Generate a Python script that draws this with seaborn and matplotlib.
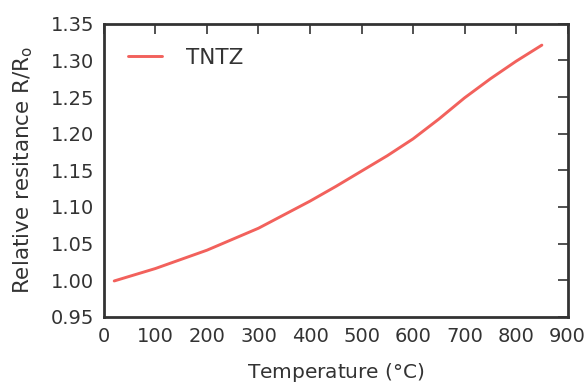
import matplotlib
matplotlib.use('Agg')
import matplotlib.pyplot as plt
import seaborn as sns
import pandas as pd

# values
temperature = [20, 100, 200, 300, 400, 450, 500, 550, 600, 650, 700, 750, 800, 850]
resistance = [0.999, 1.016, 1.041, 1.071, 1.108, 1.128, 1.149, 1.170, 1.193, 1.220,
              1.249, 1.275, 1.299, 1.321]
series_name = 'TNTZ'
x_ticks = [0, 100, 200, 300, 400, 500, 600, 700, 800, 900]
y_ticks = [0.95, 1.00, 1.05, 1.10, 1.15, 1.20, 1.25, 1.30, 1.35]

TEXT = '#333333'
LINE = '#f2615c'


def main():
    sns.set_style('white')
    plt.rcParams['font.family'] = ['DejaVu Sans']
    plt.rcParams['mathtext.fontset'] = 'dejavusans'

    df = pd.DataFrame({'T': temperature, 'R': resistance})

    fig = plt.figure(figsize=(5.87, 3.85), dpi=100)
    ax = fig.add_axes([0.177, 0.177, 0.790, 0.761])

    sns.lineplot(data=df, x='T', y='R', color=LINE, linewidth=2.1,
                 label=series_name, ax=ax)

    ax.set_xlim(0, 900)
    ax.set_ylim(0.95, 1.35)
    ax.set_xticks(x_ticks)
    ax.set_yticks(y_ticks)
    ax.set_yticklabels([f'{v:.2f}' for v in y_ticks])

    ax.tick_params(direction='in', length=7, width=1.2, colors=TEXT,
                   labelsize=14, pad=7, top=True, right=True,
                   labeltop=False, labelright=False)
    for side in ax.spines.values():
        side.set_visible(True)
        side.set_color(TEXT)
        side.set_linewidth(2)

    ax.set_xlabel('Temperature $\\mathregular{(°C)}$', fontsize=14.5,
                  color=TEXT, labelpad=11)
    ax.set_ylabel('Relative resitance R/R$_\\mathregular{o}$', fontsize=15.5,
                  color=TEXT, labelpad=11)

    leg = ax.legend(loc='upper left', frameon=False, fontsize=15.5,
                    handlelength=1.6, handletextpad=1.1,
                    borderaxespad=0.7)
    for t in leg.get_texts():
        t.set_color(TEXT)

    fig.savefig('out.png', dpi=100)


if __name__ == '__main__':
    main()
